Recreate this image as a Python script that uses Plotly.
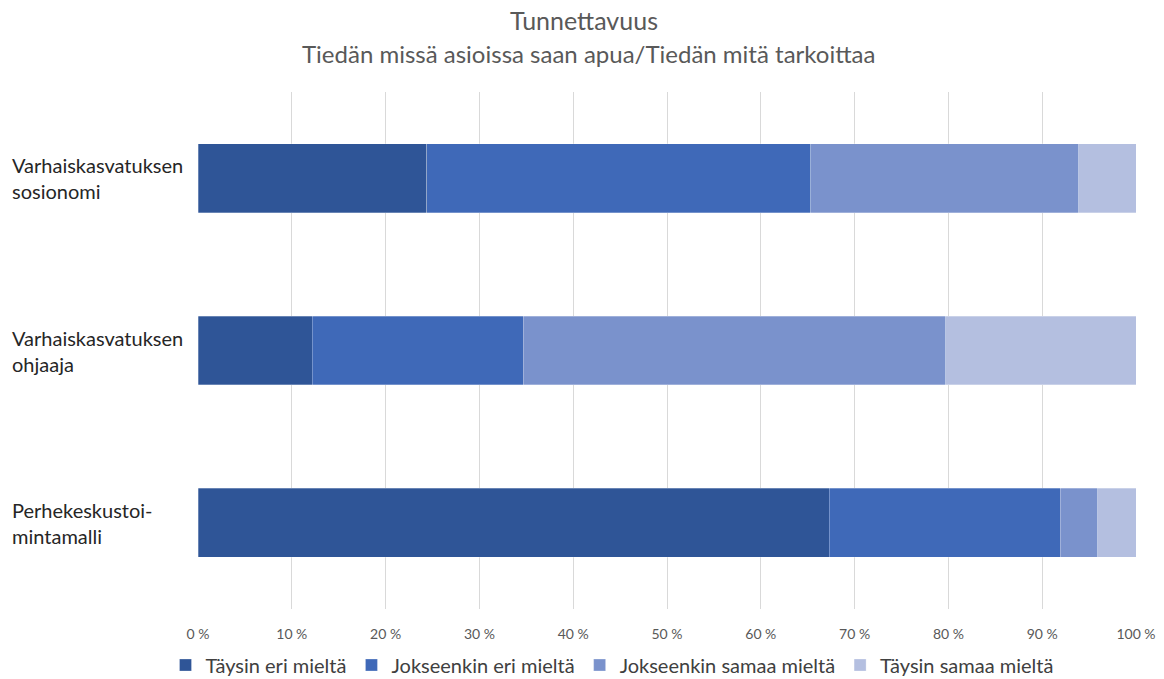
import plotly.graph_objects as go

categories = ["Varhaiskasvatuksen<br>sosionomi", "Varhaiskasvatuksen<br>ohjaaja", "Perhekeskustoi-<br>mintamalli"]
series_names = ["Täysin eri mieltä", "Jokseenkin eri mieltä", "Jokseenkin samaa mieltä", "Täysin samaa mieltä"]
taysin_eri = [24.4, 12.2, 67.3]
jokseenkin_eri = [40.9, 22.5, 24.6]
jokseenkin_samaa = [28.6, 45.0, 4.0]
taysin_samaa = [6.1, 20.3, 4.1]
tick_values = [0, 10, 20, 30, 40, 50, 60, 70, 80, 90, 100]
tick_labels = ["0 %", "10 %", "20 %", "30 %", "40 %", "50 %", "60 %", "70 %", "80 %", "90 %", "100 %"]
title_text = "Tunnettavuus"
subtitle_text = "Tiedän missä asioissa saan apua/Tiedän mitä tarkoittaa"

colors = ["#2F5597", "#3F69B8", "#7A92CC", "#B4BFE0"]
series_values = [taysin_eri, jokseenkin_eri, jokseenkin_samaa, taysin_samaa]

FONT = "Lato"
W, H = 1164, 679
# target positions in screenshot px
PL, PR, PT, PB = 198, 1136, 92, 609
ML, MR, MT, MB = PL, W - PR, PT, H - PB
plot_w = W - ML - MR
plot_h = H - MT - MB


def py(px):
    return (PB - px) / plot_h


def px_(x):
    return (x - PL) / plot_w


def cy(y):
    return 1 - y / H


fig = go.Figure()
for name, vals, col in zip(series_names, series_values, colors):
    fig.add_trace(go.Bar(
        y=categories, x=vals, name=name, orientation="h",
        marker=dict(color=col, line=dict(color="rgba(255,255,255,0.35)", width=0.8)),
        hoverinfo="x+name",
    ))

for cat in categories:
    fig.add_annotation(
        x=px_(10), xref="paper", y=cat, yref="y",
        text=cat, showarrow=False, xanchor="left", yanchor="middle", align="left",
        font=dict(family=FONT, size=20, color="#262626"),
    )

fig.add_annotation(
    x=px_(588), xref="paper", y=py(54), yref="paper",
    text=subtitle_text, showarrow=False, xanchor="center", yanchor="middle",
    font=dict(family=FONT, size=24, color="#595959"),
)

fig.update_layout(
    width=W, height=H,
    margin=dict(l=ML, r=MR, t=MT, b=MB, autoexpand=False),
    barmode="stack", bargap=0.6,
    plot_bgcolor="white", paper_bgcolor="white",
    title=dict(text=title_text, x=584 / W, xanchor="center", xref="container",
               y=cy(21), yanchor="middle", yref="container",
               font=dict(family=FONT, size=25, color="#595959")),
    xaxis=dict(range=[0, 100], tickvals=tick_values, ticktext=tick_labels,
               showgrid=True, gridcolor="#D9D9D9", gridwidth=1, zeroline=False,
               showline=False, ticks="", ticklabelstandoff=15, automargin=False,
               tickfont=dict(family=FONT, size=14, color="#595959")),
    yaxis=dict(autorange="reversed", showticklabels=False, showgrid=False,
               zeroline=False, showline=False, automargin=False),
    legend=dict(orientation="h", x=612 / W, xanchor="center", xref="container",
                y=cy(665), yanchor="middle", yref="container",
                font=dict(family=FONT, size=20, color="#404040"),
                itemwidth=30, traceorder="normal"),
    showlegend=True,
)

fig.write_html(
    "out.html",
    config={"displayModeBar": False},
    post_script="document.body.style.margin='0';document.body.style.overflow='hidden';",
)
